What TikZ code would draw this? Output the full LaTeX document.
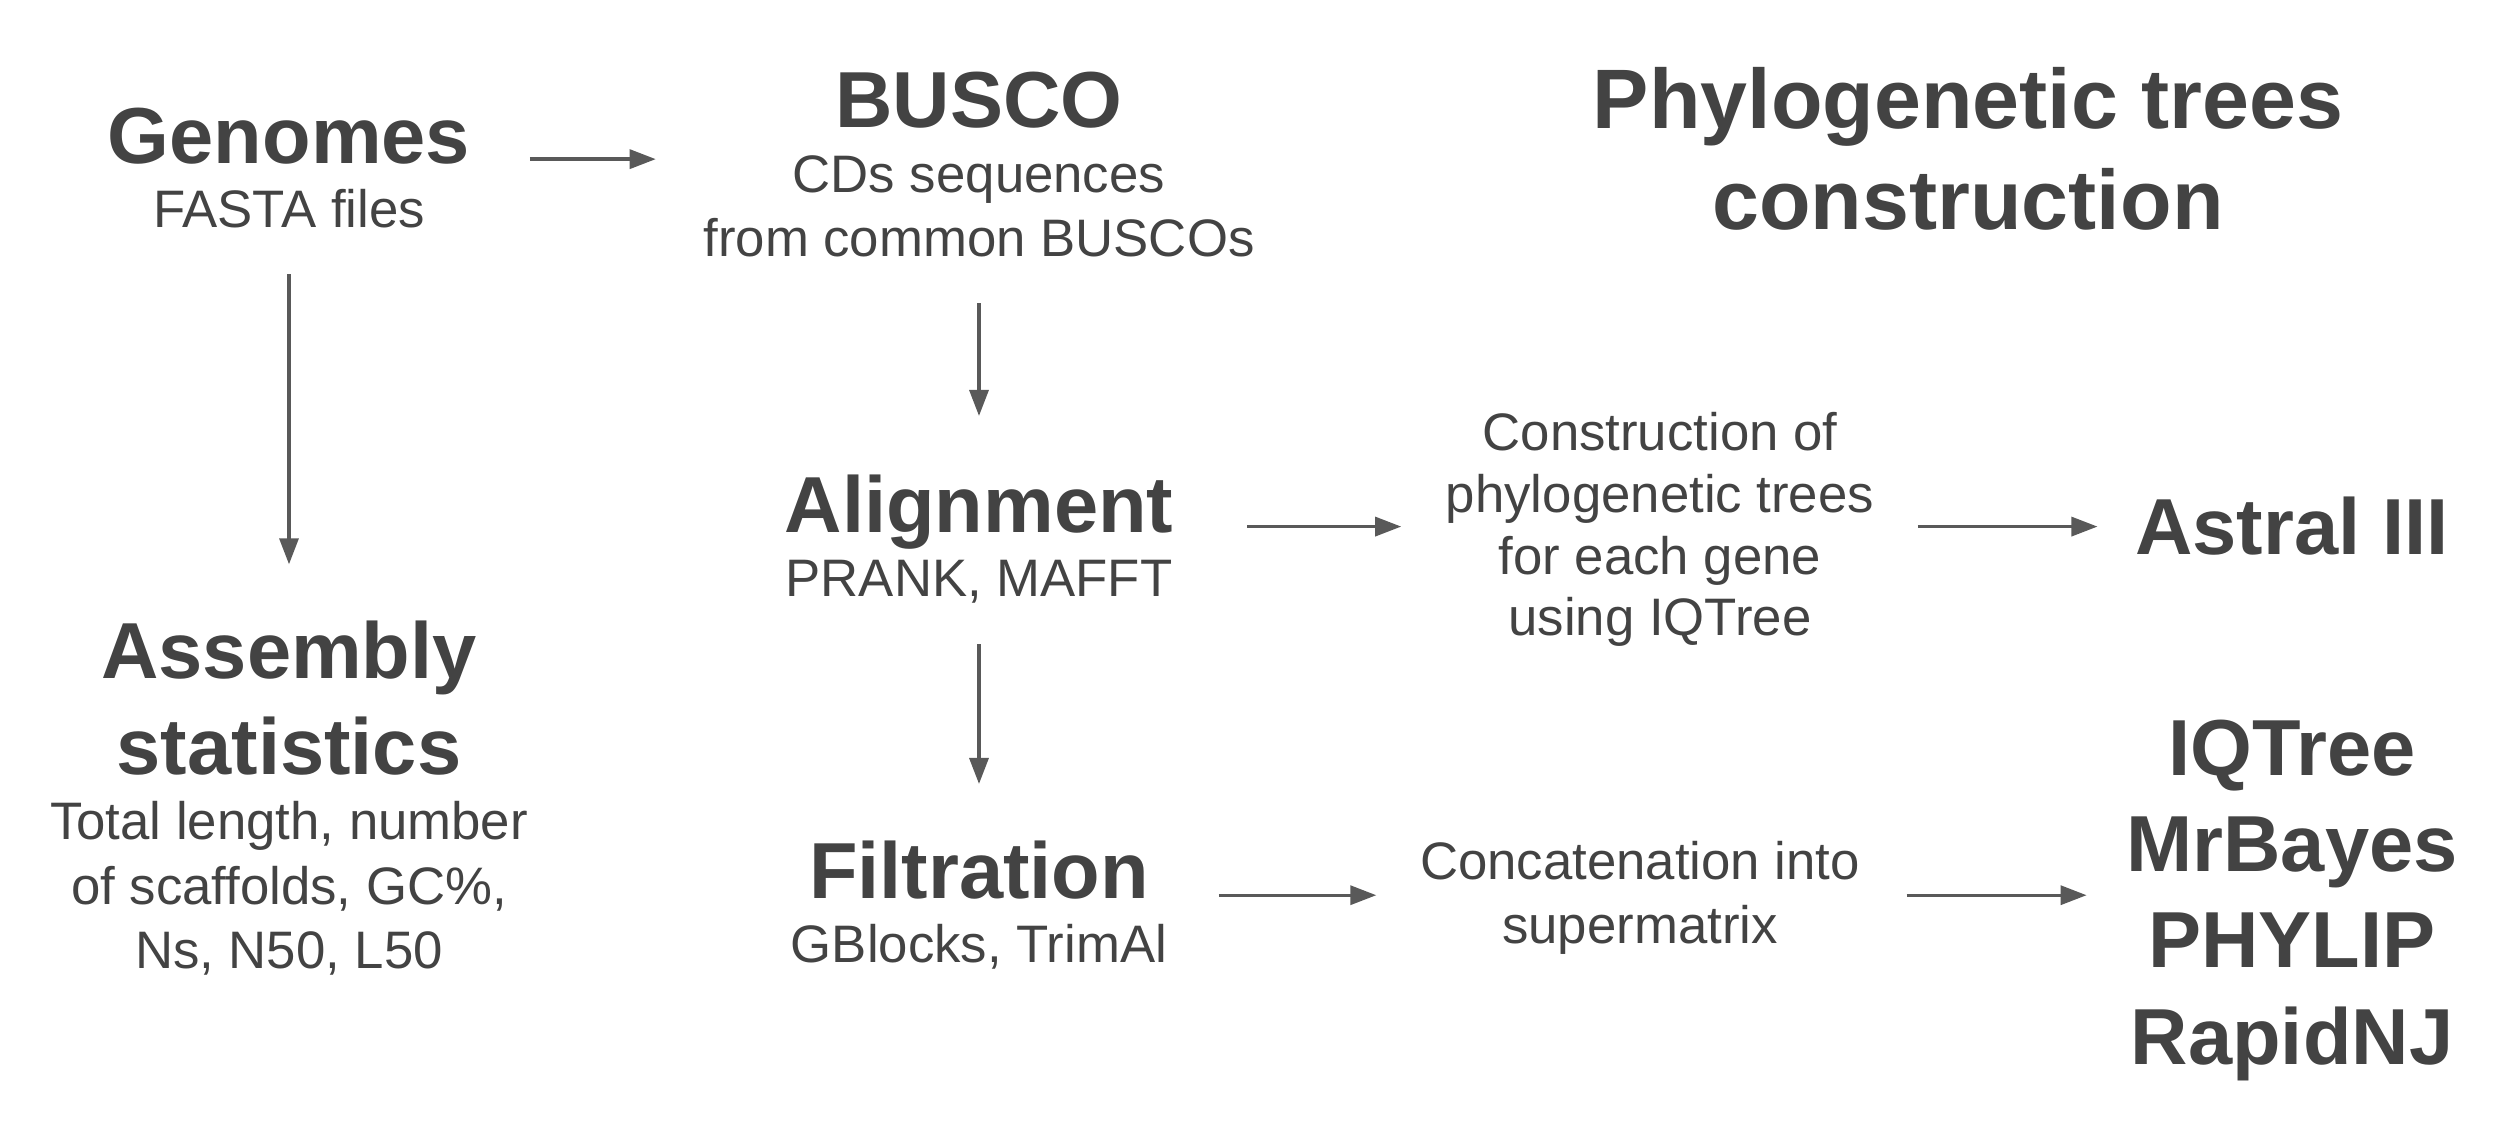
\documentclass[tikz,border=0pt]{standalone}
\usepackage{fontspec}
\setmainfont{Liberation Sans}
\usetikzlibrary{arrows.meta}

\definecolor{txtgray}{HTML}{434343}
\definecolor{arrgray}{HTML}{595959}

\newcommand{\ttlfont}{\fontsize{22.6}{27.3}\selectfont\bfseries}
\newcommand{\subfont}{\fontsize{15}{18.4}\selectfont}

\tikzset{
  block/.style={inner sep=0, align=center, text=txtgray, font=\subfont, anchor=base},
  flow/.style={draw=arrgray, line width=0.94pt, -{Triangle[length=0.26cm,width=0.19cm]}},
}

\begin{document}
\begin{tikzpicture}[x=0.01cm, y=-0.01cm]
        \useasboundingbox (0,0) rectangle (2517,1137);
        
        % blocks (placed at the baseline of their last line)
        \node[block] (genomes) at (289,228) {{\ttlfont Genomes}\\FASTA files};
        \node[block] (busco) at (979,257) {{\ttlfont BUSCO}\\CDs sequences\\from common BUSCOs};
        \node[block, font=\fontsize{24}{29}\selectfont\bfseries] (phylo) at (1968,230) {Phylogenetic trees\\construction};
        \node[block] (align) at (979,597) {{\ttlfont Alignment}\\PRANK, MAFFT};
        \node[block, font=\fontsize{15}{17.6}\selectfont] (constr) at (1660,636) {Construction of\\phylogenetic trees\\for each gene\\using IQTree};
        \node[block, font=\ttlfont] (astral) at (2292,555) {Astral III};
        \node[block] (assembly) at (289,969) {{\ttlfont Assembly}\\[5.3pt]{\ttlfont statistics}\\Total length, number\\of scaffolds, GC\%,\\Ns, N50, L50};
        \node[block] (filtr) at (979,963) {{\ttlfont Filtration}\\GBlocks, TrimAl};
        \node[block] (concat) at (1640,944) {Concatenation into\\supermatrix};
        \node[block, font=\ttlfont] (tools) at (2292,1064) {IQTree\\MrBayes\\PHYLIP\\RapidNJ};
        
        % arrows
        \draw[flow, shorten <=0.59cm, shorten >=0.47cm] ([yshift=0.09cm]genomes.east) -- ([yshift=0.09cm]genomes.east -| busco.west);
        \draw[flow, shorten <=0.45cm, shorten >=0.56cm] (genomes.south) -- (assembly.north);
        \draw[flow, shorten <=0.45cm, shorten >=0.58cm] (busco.south) -- (align.north);
        \draw[flow, shorten <=0.40cm, shorten >=0.56cm] (align.south) -- (filtr.north);
        \draw[flow, shorten <=0.73cm, shorten >=0.44cm] (align.east |- astral) -- (constr.west |- astral);
        \draw[flow, shorten <=0.43cm, shorten >=0.37cm] (constr.east |- astral) -- (astral.west);
        \draw[flow, shorten <=0.51cm, shorten >=0.43cm] ([yshift=0.1cm]filtr.east) -- ([yshift=0.1cm]filtr.east -| concat.west);
        \draw[flow, shorten <=0.46cm, shorten >=0.39cm] ([yshift=0.1cm]concat.east |- filtr.east) -- ([yshift=0.1cm]filtr.east -| tools.west);
    \end{tikzpicture}
\end{document}
